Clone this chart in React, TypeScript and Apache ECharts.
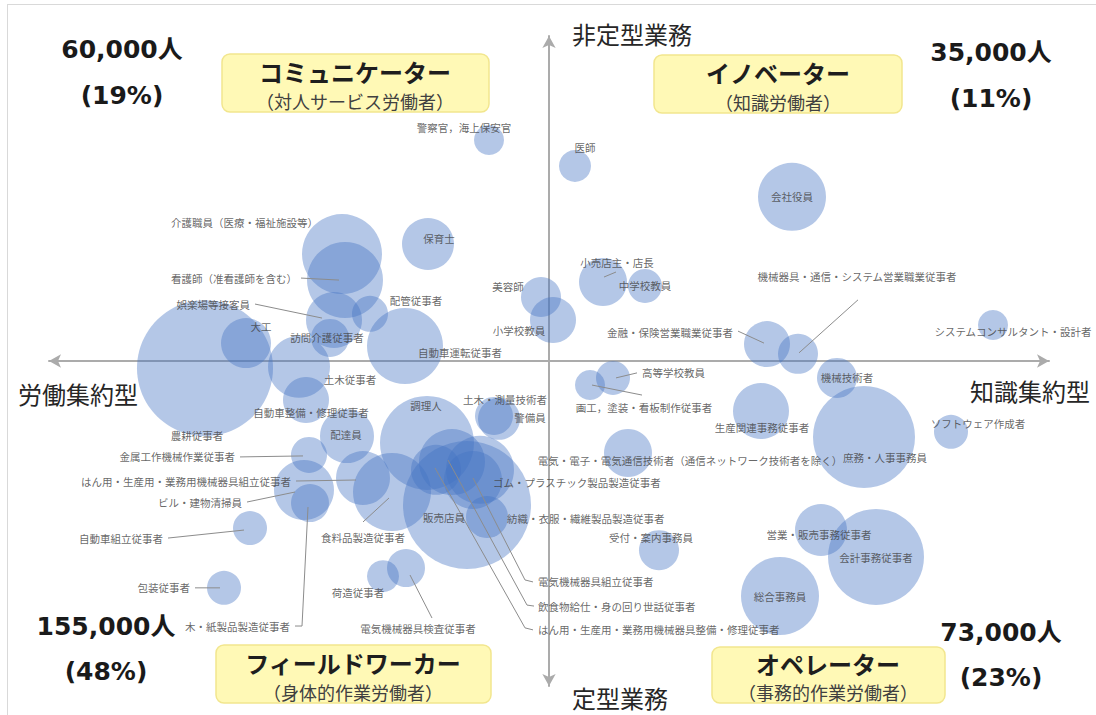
import React, { useEffect, useRef } from "react";
import * as echarts from "echarts";

// ---------- data ----------
const occupations: string[] = [
  "警察官，海上保安官", "医師", "会社役員", "介護職員（医療・福祉施設等）", "看護師（准看護師を含む）",
  "保育士", "娯楽場等接客員", "配管従事者", "訪問介護従事者", "大工",
  "自動車運転従事者", "農耕従事者", "土木従事者", "自動車整備・修理従事者", "配達員",
  "金属工作機械作業従事者", "はん用・生産用・業務用機械器具組立従事者", "ビル・建物清掃員", "木・紙製品製造従事者", "自動車組立従事者",
  "包装従事者", "食料品製造従事者", "調理人", "販売店員", "土木・測量技術者",
  "警備員", "飲食物給仕・身の回り世話従事者", "はん用・生産用・業務用機械器具整備・修理従事者", "電気機械器具組立従事者", "ゴム・プラスチック製品製造従事者",
  "紡織・衣服・繊維製品製造従事者", "荷造従事者", "電気機械器具検査従事者", "小売店主・店長", "中学校教員",
  "美容師", "小学校教員", "機械器具・通信・システム営業職業従事者", "金融・保険営業職業従事者", "システムコンサルタント・設計者",
  "機械技術者", "高等学校教員", "画工，塗装・看板制作従事者", "生産関連事務従事者", "庶務・人事事務員",
  "ソフトウェア作成者", "電気・電子・電気通信技術者（通信ネットワーク技術者を除く）", "受付・案内事務員", "営業・販売事務従事者", "会計事務従事者",
  "総合事務員",
];

// labor-intensive (-100) ... knowledge-intensive (+100)
const knowledgeIntensity: number[] = [
  -12.0, 5.2, 48.6, -41.4, -40.8,
  -24.2, -43.0, -35.8, -43.8, -60.6,
  -28.8, -68.8, -50.0, -48.6, -40.4,
  -48.0, -37.2, -49.0, -47.8, -59.8,
  -65.0, -31.4, -24.4, -16.4, -11.0,
  -10.0, -19.4, -22.6, -15.2, -13.8,
  -12.4, -33.2, -28.6, 10.8, 19.2,
  -1.6, 0.8, 49.8, 43.6, 88.8,
  57.6, 12.8, 8.2, 42.4, 63.0,
  80.4, 15.8, 22.0, 54.4, 65.4,
  46.2,
];

// routine (-100) ... non-routine (+100)
const nonRoutineness: number[] = [
  68.0, 60.0, 50.5, 32.9, 24.9,
  36.0, 12.6, 14.5, 7.1, 5.5,
  4.6, -2.2, -1.8, -12.0, -23.1,
  -28.9, -36.0, -39.7, -43.7, -51.4,
  -69.8, -40.3, -25.2, -44.3, -16.9,
  -17.8, -31.1, -33.5, -36.6, -33.5,
  -48.0, -66.2, -63.7, 24.3, 23.1,
  19.7, 12.6, 2.2, 5.2, 11.1,
  -5.2, -5.2, -7.4, -15.4, -23.4,
  -21.8, -28.3, -58.2, -52.0, -60.3,
  -72.3,
];

// relative number of workers (bubble scale)
const workerScale: number[] = [
  30, 32, 68, 80, 76,
  52, 56, 36, 38, 50,
  76, 136, 62, 46, 54,
  36, 54, 60, 38, 34,
  34, 78, 94, 128, 38,
  42, 66, 50, 58, 68,
  42, 32, 38, 48, 34,
  40, 46, 40, 46, 30,
  40, 34, 30, 56, 102,
  34, 48, 40, 52, 96,
  78,
];

const axisTitles: string[] = ["非定型業務", "定型業務", "労働集約型", "知識集約型"];
const quadrantTitles: string[] = ["コミュニケーター", "イノベーター", "フィールドワーカー", "オペレーター"];
const quadrantSubtitles: string[] = ["（対人サービス労働者）", "（知識労働者）", "（身体的作業労働者）", "（事務的作業労働者）"];
const quadrantCounts: string[] = ["60,000人", "35,000人", "155,000人", "73,000人"];
const quadrantShares: string[] = ["(19%)", "(11%)", "(48%)", "(23%)"];

// ---------- layout (pixels) ----------
type Align = "left" | "center" | "right";
const labelLayout: [number, number, Align][] = [
  [-25, -13, "center"], [10, -19, "center"], [0, 0, "center"], [-24, -32, "right"], [-48, -2, "right"],
  [11, -6, "center"], [-84, -16, "right"], [46, -13, "center"], [-3, 0, "center"], [15, -17, "center"],
  [55, 6, "center"], [-8, 67, "center"], [51, 13, "center"], [5, 12, "center"], [-1, -2, "center"],
  [-74, 2, "right"], [-72, 3, "right"], [-62, 12, "right"], [-20, 123, "right"], [-87, 10, "right"],
  [-34, 0, "right"], [-29, 46, "center"], [-1, -37, "center"], [-23, 13, "center"], [11, -16, "center"],
  [31, -1, "center"], [86, 144, "left"], [102, 160, "left"], [65, 102, "left"], [13, 13, "left"],
  [20, 1, "left"], [-25, 16, "center"], [12, 60, "center"], [14, -20, "center"], [0, 0, "center"],
  [-33, -10, "center"], [-34, 10, "center"], [59, -77, "center"], [-34, -12, "right"], [20, 7, "center"],
  [10, 0, "center"], [29, -5, "left"], [54, 22, "center"], [1, 16, "center"], [21, 20, "center"],
  [27, -8, "center"], [62, 8, "center"], [-8, -13, "center"], [-2, 4, "center"], [0, 1, "center"],
  [0, 1, "center"],
];

const leaderLines: Record<number, number[][]> = {
  4: [[-44, -2], [-6, 0]],
  6: [[-79, -16], [-12, -2]],
  15: [[-69, 2], [-6, 1]],
  16: [[-67, 3], [-7, 2]],
  17: [[-57, 12], [-9, 2]],
  18: [[-15, 123], [-8, 123], [-2, 4]],
  19: [[-82, 10], [-6, 2]],
  20: [[-29, 0], [-4, 0]],
  21: [[-29, 30], [-3, 6]],
  26: [[-4, -2], [75, 143], [82, 144]],
  27: [[-1, -2], [89, 158], [97, 160]],
  28: [[0, -2], [52, 100], [60, 102]],
  32: [[4, 7], [26, 50]],
  33: [[1, -5], [13, -10]],
  37: [[60, -54], [1, -1]],
  38: [[-29, -13], [-3, -1]],
  41: [[3, 0], [24, -5]],
  42: [[2, 0], [52, 10]],
};

const FONT_JP = '"Noto Sans CJK JP", "Noto Sans", sans-serif';
const FONT_NUM = '"DejaVu Sans", "Noto Sans CJK JP", sans-serif';

function buildOption() {
  const bubbles = occupations.map((name, i) => ({
    name,
    value: [knowledgeIntensity[i], nonRoutineness[i], workerScale[i]],
  }));
  const labels = occupations.map((name, i) => ({
    name,
    value: [knowledgeIntensity[i], nonRoutineness[i]],
    label: {
      offset: [labelLayout[i][0], labelLayout[i][1]],
      align: labelLayout[i][2],
    },
  }));
  const leaders = Object.keys(leaderLines).map((k) => {
    const i = Number(k);
    return [knowledgeIntensity[i], nonRoutineness[i], i];
  });

  const axisCommon = {
    type: "value",
    min: -100,
    max: 100,
    axisLine: {
      show: true,
      onZero: true,
      symbol: ["arrow", "arrow"],
      symbolSize: [10, 12],
      lineStyle: { color: "#ABABAB", width: 2 },
    },
    axisTick: { show: false },
    axisLabel: { show: false },
    splitLine: { show: false },
  };

  const boxes = [
    { x: 222, y: 54, w: 267, h: 58, tx: 355, ty: 71, sy: 101 },
    { x: 654, y: 55, w: 248, h: 58, tx: 778, ty: 72, sy: 102 },
    { x: 216, y: 645, w: 275, h: 58, tx: 353, ty: 662, sy: 692 },
    { x: 712, y: 647, w: 233, h: 56, tx: 828, ty: 663, sy: 692 },
  ];
  const counts = [
    { x: 122, y: 49, sy: 95 },
    { x: 991, y: 52, sy: 98 },
    { x: 106, y: 626, sy: 671 },
    { x: 1001, y: 632, sy: 677 },
  ];
  const axisTitlePos = [
    { x: 572, y: 33, align: "left" },
    { x: 572, y: 697, align: "left" },
    { x: 18, y: 393, align: "left" },
    { x: 1090, y: 390, align: "right" },
  ];

  const graphic: any[] = [
    { type: "line", shape: { x1: 7, y1: 4.5, x2: 1096, y2: 4.5 }, style: { stroke: "#D9D9D9", lineWidth: 1 } },
    { type: "line", shape: { x1: 7.5, y1: 4, x2: 7.5, y2: 715 }, style: { stroke: "#D9D9D9", lineWidth: 1 } },
  ];
  boxes.forEach((b, i) => {
    graphic.push({
      type: "rect",
      shape: { x: b.x, y: b.y, width: b.w, height: b.h, r: 8 },
      style: { fill: "#FFF9B6", stroke: "#F2E68E", lineWidth: 1.5 },
    });
    graphic.push({
      type: "text", x: b.tx, y: b.ty,
      style: { text: quadrantTitles[i], fontSize: 24, lineHeight: 24, fontWeight: "bold", fontFamily: FONT_JP, fill: "#1E1E1E", align: "center", verticalAlign: "middle" },
    });
    graphic.push({
      type: "text", x: b.tx, y: b.sy,
      style: { text: quadrantSubtitles[i], fontSize: 18, lineHeight: 18, fontFamily: FONT_JP, fill: "#404040", align: "center", verticalAlign: "middle" },
    });
  });
  counts.forEach((c, i) => {
    graphic.push({
      type: "text", x: c.x, y: c.y,
      style: { text: quadrantCounts[i], fontSize: 25, fontWeight: "bold", fontFamily: FONT_NUM, fill: "#1A1A1A", align: "center", verticalAlign: "middle" },
    });
    graphic.push({
      type: "text", x: c.x, y: c.sy,
      style: { text: quadrantShares[i], fontSize: 25, fontWeight: "bold", fontFamily: FONT_NUM, fill: "#1A1A1A", align: "center", verticalAlign: "middle" },
    });
  });
  axisTitlePos.forEach((p, i) => {
    graphic.push({
      type: "text", x: p.x, y: p.y,
      style: { text: axisTitles[i], fontSize: 24, lineHeight: 24, fontFamily: FONT_JP, fill: "#262626", align: p.align, verticalAlign: "middle" },
    });
  });

  return {
    animation: false,
    backgroundColor: "#FFFFFF",
    grid: { left: 49, top: 36, width: 1000, height: 650 },
    xAxis: axisCommon,
    yAxis: axisCommon,
    graphic,
    series: [
      {
        type: "scatter",
        silent: true,
        data: bubbles,
        symbolSize: (val: number[]) => val[2],
        itemStyle: { color: "rgba(68,114,196,0.5)" },
        label: { show: false },
        z: 2,
      },
      {
        type: "custom",
        silent: true,
        data: leaders,
        encode: { x: 0, y: 1 },
        renderItem: (params: any, api: any) => {
          const c = api.coord([api.value(0), api.value(1)]);
          const idx = api.value(2);
          const pts = leaderLines[idx].map((p) => [c[0] + p[0], c[1] + p[1]]);
          return {
            type: "polyline",
            shape: { points: pts },
            style: { stroke: "#8C8C8C", lineWidth: 1, fill: null },
          };
        },
        z: 3,
      },
      {
        type: "scatter",
        silent: true,
        data: labels,
        symbolSize: 0,
        itemStyle: { color: "rgba(0,0,0,0)" },
        label: {
          show: true,
          position: "inside",
          formatter: "{b}",
          fontSize: 10.5,
          fontFamily: FONT_JP,
          color: "#404040",
          verticalAlign: "middle",
        },
        z: 4,
      },
    ],
  };
}

export default function App() {
  const ref = useRef<HTMLDivElement>(null);
  useEffect(() => {
    const chart = echarts.init(ref.current as HTMLDivElement, null, { renderer: "svg" });
    chart.setOption(buildOption() as any);
    return () => chart.dispose();
  }, []);
  return (
    <div
      ref={ref}
      style={{ position: "absolute", left: 0, top: 0, width: 1096, height: 715, background: "#FFFFFF" }}
    />
  );
}
